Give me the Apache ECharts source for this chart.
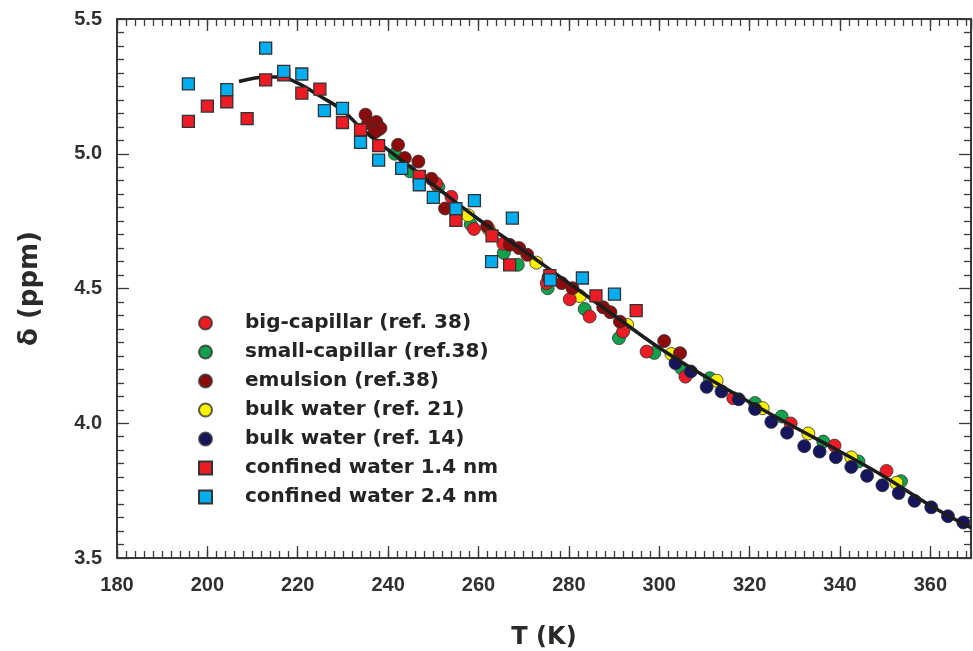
<!DOCTYPE html>
<html>
<head>
<meta charset="utf-8">
<script src="https://cdn.jsdelivr.net/npm/echarts@6/dist/echarts.min.js"></script>
<style>html,body{margin:0;padding:0;background:#fff}#c{width:973px;height:651px}</style>
</head>
<body>
<div id="c"></div>
<script>
// ---- data: [T (K), delta (ppm)] ----
const bigCapillar = [[250.6,4.890],[254.0,4.840],[259.0,4.721],[265.5,4.666],[275.1,4.520],[280.2,4.460],[284.6,4.396],[292.0,4.340],[297.2,4.266],[305.8,4.173],[316.4,4.093],[329.1,3.999],[338.8,3.917],[350.3,3.823]];
const smallCapillar = [[241.5,5.000],[244.8,4.935],[251.1,4.877],[258.3,4.738],[265.6,4.632],[268.7,4.588],[275.3,4.501],[283.5,4.424],[291.1,4.316],[298.9,4.261],[304.9,4.204],[311.2,4.167],[321.2,4.075],[327.1,4.025],[336.3,3.932],[344.1,3.858],[353.5,3.785]];
const emulsion = [[235.0,5.145],[235.6,5.114],[237.4,5.118],[237.8,5.089],[238.3,5.095],[237.0,5.079],[242.2,5.033],[243.7,4.984],[246.7,4.971],[249.6,4.907],[252.6,4.797],[261.9,4.730],[266.9,4.662],[269.0,4.650],[270.8,4.625],[275.5,4.542],[278.4,4.520],[280.8,4.501],[287.6,4.430],[289.2,4.412],[291.3,4.377],[301.1,4.305],[304.6,4.260]];
const bulk21 = [[257.7,4.772],[262.3,4.719],[272.8,4.596],[282.4,4.472],[292.9,4.365],[302.7,4.257],[312.7,4.158],[322.9,4.056],[333.0,3.962],[342.5,3.873],[352.5,3.779]];
const bulk14 = [[303.6,4.223],[307.0,4.192],[310.5,4.135],[313.8,4.118],[317.6,4.089],[321.2,4.053],[324.8,4.005],[328.3,3.965],[332.1,3.915],[335.5,3.895],[339.1,3.874],[342.5,3.838],[346.0,3.805],[349.4,3.770],[353.0,3.741],[356.5,3.712],[360.2,3.688],[363.9,3.655],[367.3,3.632]];
const confined14 = [[195.8,5.120],[200.0,5.177],[204.3,5.193],[208.8,5.130],[212.9,5.274],[216.9,5.293],[220.9,5.225],[224.9,5.240],[229.9,5.116],[233.9,5.089],[237.9,5.030],[246.9,4.916],[255.0,4.753],[263.0,4.695],[266.9,4.588],[275.8,4.548],[286.0,4.473],[294.9,4.418]];
const confined24 = [[195.8,5.259],[204.3,5.238],[212.9,5.392],[216.9,5.306],[220.9,5.296],[225.9,5.160],[229.9,5.168],[233.9,5.042],[237.9,4.976],[243.0,4.946],[246.9,4.885],[250.0,4.838],[255.0,4.796],[259.1,4.826],[262.9,4.600],[267.5,4.761],[275.9,4.532],[283.0,4.539],[290.1,4.479]];
const fitT = [207,210,213,216,220,225,230,234,239,245,250,260,270,280,290,300,310,320,330,340,350,360,369];
const fitD = [5.268,5.279,5.285,5.285,5.262,5.213,5.160,5.095,5.027,4.950,4.885,4.757,4.640,4.520,4.400,4.280,4.175,4.078,3.985,3.895,3.800,3.695,3.612];
const seriesNames = ['big-capillar (ref. 38)','small-capillar (ref.38)','emulsion (ref.38)','bulk water (ref. 21)','bulk water (ref. 14)','confined water 1.4 nm','confined water 2.4 nm'];
const xMin = 180, xMax = 369, xMajor = 20, xMinor = 2;
const yMin = 3.5, yMax = 5.5, yMajor = 0.5;

const chart = echarts.init(document.getElementById('c'), null, {renderer:'canvas'});
const frame = '#3a3a3a';
const lblFont = {fontFamily:'Liberation Sans, Arial, sans-serif', fontWeight:'bold', fontSize:20, color:'#303030'};
function xAx(pos, major, showLabel, name) {
  return {
    type:'value', position:pos, min:xMin, max:xMax, interval: major ? xMajor : xMinor,
    name: name || '', nameLocation:'middle', nameGap:68,
    nameTextStyle:{fontFamily:'DejaVu Sans, sans-serif', fontWeight:'bold', fontSize:24, color:'#2a2a2a'},
    axisLine:{show:true, onZero:false, lineStyle:{color:frame, width:2}},
    axisTick:{show:true, inside:true, length: major ? 12 : 7, lineStyle:{color:frame, width:1.3}},
    axisLabel:{show:showLabel, margin:17, showMaxLabel:false, ...lblFont, formatter:v=>String(v)},
    splitLine:{show:false}
  };
}
function yAx(pos, showLabel, name) {
  return {
    type:'value', position:pos, min:yMin, max:yMax, interval:yMajor,
    name: name || '', nameLocation:'middle', nameGap:74,
    nameTextStyle:{fontFamily:'DejaVu Sans, sans-serif', fontWeight:'bold', fontSize:26, color:'#2a2a2a'},
    axisLine:{show:true, onZero:false, lineStyle:{color:frame, width:2}},
    axisTick:{show:true, inside:true, length:12, lineStyle:{color:frame, width:1.3}},
    minorTick:{show:true, splitNumber:10, length:7, lineStyle:{color:frame, width:1.3}},
    axisLabel:{show:showLabel, margin:15, ...lblFont, formatter:v=>v.toFixed(1)},
    splitLine:{show:false}, minorSplitLine:{show:false}
  };
}
const circleStyle = c => ({color:c, opacity:1, borderColor:'rgba(50,50,50,0.8)', borderWidth:1});
const squareStyle = c => ({color:c, opacity:1, borderColor:'#333', borderWidth:1.3});
function sc(name, data, symbol, color, z) {
  return {name, type:'scatter', data, symbol, symbolSize: symbol==='rect'?12:13, z,
    itemStyle: symbol==='rect' ? squareStyle(color) : circleStyle(color), emphasis:{disabled:true}};
}
chart.setOption({
  animation:false,
  grid:{left:117, right:2, top:19, bottom:93, containLabel:false, outerBoundsMode:'none'},
  xAxis:[xAx('bottom', true, true, 'T (K)'), xAx('bottom', false, false), xAx('top', true, false), xAx('top', false, false)],
  yAxis:[yAx('left', true, 'δ (ppm)'), yAx('right', false)],
  legend:{
    data: seriesNames, orient:'vertical', left:193, top:308, itemWidth:13, itemHeight:13, itemGap:9,
    textStyle:{fontFamily:'DejaVu Sans, sans-serif', fontWeight:'bold', fontSize:20, lineHeight:20, color:'#242424', padding:[0,0,0,28]},
    selectedMode:false
  },
  series:[
    sc(seriesNames[0], bigCapillar, 'circle', '#ec1c24', 4),
    sc(seriesNames[1], smallCapillar, 'circle', '#12a14b', 2),
    sc(seriesNames[2], emulsion, 'circle', '#8c0b0b', 5),
    sc(seriesNames[3], bulk21, 'circle', '#fff200', 3),
    sc(seriesNames[4], bulk14, 'circle', '#15155e', 6),
    {name:'fit', type:'line', data: fitT.map((t,i)=>[t, fitD[i]]), smooth:0.4, symbol:'none', z:7,
      lineStyle:{color:'#1c1c1c', width:3.5}, emphasis:{disabled:true}},
    sc(seriesNames[5], confined14, 'rect', '#ed1c24', 8),
    sc(seriesNames[6], confined24, 'rect', '#00aeef', 9)
  ]
});
</script>
</body>
</html>
